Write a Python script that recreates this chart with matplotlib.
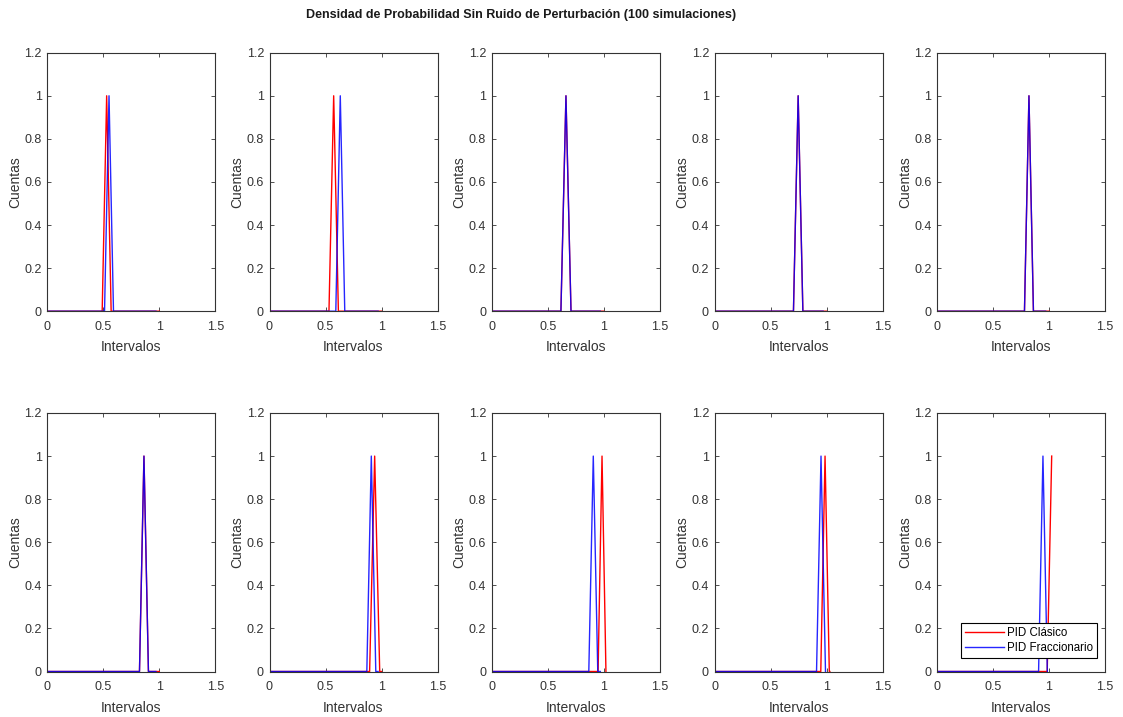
import matplotlib
matplotlib.use("Agg")
import matplotlib.pyplot as plt
from matplotlib import font_manager
import numpy as np

# prefer a narrow sans font if one is installed (the reference uses a condensed Arial-like face)
_names = {f.name for f in font_manager.fontManager.ttflist}
_narrow = [n for n in ("Liberation Sans Narrow", "Arial Narrow", "DejaVu Sans Condensed") if n in _names]
NARROW = bool(_narrow)
plt.rcParams['font.family'] = _narrow + ['Liberation Sans', 'DejaVu Sans']

title = "Densidad de Probabilidad Sin Ruido de Perturbación (100 simulaciones)"
series_names = ["PID Clásico", "PID Fraccionario"]
xlabel = "Intervalos"
ylabel = "Cuentas"

# Peak bin centres (x) of each histogram, per panel (row-major, 2 x 5)
red_peak = [0.530, 0.573, 0.663, 0.747, 0.821, 0.863, 0.939, 0.985, 0.987, 1.024]
blue_peak = [0.551, 0.632, 0.663, 0.747, 0.821, 0.863, 0.909, 0.907, 0.951, 0.946]
# Bin half-width (distance from peak to neighbouring zero bins)
red_hw = [0.040, 0.042, 0.045, 0.042, 0.040, 0.040, 0.045, 0.035, 0.038, 0.040]
blue_hw = [0.040, 0.040, 0.045, 0.042, 0.040, 0.040, 0.040, 0.040, 0.040, 0.039]
# Last bin of each series
red_end = [1.00, 1.00, 1.00, 1.00, 1.00, 1.00, 1.00, 1.02, 1.03, 1.024]
blue_end = [0.97, 0.97, 0.97, 0.97, 0.97, 0.97, 0.97, 0.97, 0.99, 0.985]
peak_count = 1.0

xticks = [0, 0.5, 1, 1.5]
xticklabels = ["0", "0.5", "1", "1.5"]
yticks = [0, 0.2, 0.4, 0.6, 0.8, 1.0, 1.2]
yticklabels = ["0", "0.2", "0.4", "0.6", "0.8", "1", "1.2"]

W, H = 1123, 717
fig = plt.figure(figsize=(W / 100, H / 100), dpi=100)

col_left = [47.3, 269.5, 491.7, 714.5, 937.0]
ax_w = 168.0
row_top = [52.7, 413.0]
ax_h = 258.5

grey = (0.2, 0.2, 0.2)
tick_fs = 10 if NARROW else 9.0
lab_fs = 11 if NARROW else 10.0
title_fs = 10.5 if NARROW else 9.0
leg_fs = 9 if NARROW else 8.3


def series(peak, hw, end):
    xs = [0.0, peak - hw, peak]
    ys = [0.0, 0.0, peak_count]
    if end > peak + 1e-9:
        xs += [peak + hw]
        ys += [0.0]
        if end > peak + hw:
            xs += [end]
            ys += [0.0]
    return np.array(xs), np.array(ys)


for i in range(10):
    r, c = divmod(i, 5)
    left = col_left[c] / W
    bottom = 1 - (row_top[r] + ax_h) / H
    ax = fig.add_axes([left, bottom, ax_w / W, ax_h / H])
    xr, yr = series(red_peak[i], red_hw[i], red_end[i])
    xb, yb = series(blue_peak[i], blue_hw[i], blue_end[i])
    ax.plot(xr, yr, color='red', lw=1.0, label=series_names[0])
    ax.plot(xb, yb, color='blue', lw=1.0, alpha=0.85, label=series_names[1])
    ax.set_xlim(0, 1.5)
    ax.set_ylim(0, 1.2)
    ax.set_xticks(xticks)
    ax.set_xticklabels(xticklabels)
    ax.set_yticks(yticks)
    ax.set_yticklabels(yticklabels)
    ax.tick_params(direction='in', top=True, right=True, length=3, width=0.6,
                   labelsize=tick_fs, colors=grey, labelcolor=grey)
    ax.tick_params(axis='x', pad=7)
    ax.tick_params(axis='y', pad=4)
    for s in ax.spines.values():
        s.set_color(grey)
        s.set_linewidth(0.8)
    xl = ax.set_xlabel(xlabel, fontsize=lab_fs, color=grey)
    yl = ax.set_ylabel(ylabel, fontsize=lab_fs, color=grey)
    ax.xaxis.set_label_coords(0.5, -36 / ax_h)
    xl.set_va('center')
    ax.yaxis.set_label_coords(-32 / ax_w, 0.5)
    yl.set_va('center')
    if i == 9:
        leg = ax.legend(loc='lower right', bbox_to_anchor=(0.954, 0.052),
                        borderaxespad=0, fancybox=False, edgecolor='black',
                        fontsize=leg_fs, handlelength=3.4, borderpad=0.35,
                        labelspacing=0.25, handletextpad=0.3, framealpha=1)
        leg.get_frame().set_linewidth(0.8)
        for t in leg.get_texts():
            t.set_color('black')

fig.text(0.5 * (343 + 700) / W, 1 - 15 / H, title, ha='center', va='center',
         fontsize=title_fs, fontweight='bold', color=(0.1, 0.1, 0.1))

fig.savefig("out.png", dpi=100, facecolor='white')
